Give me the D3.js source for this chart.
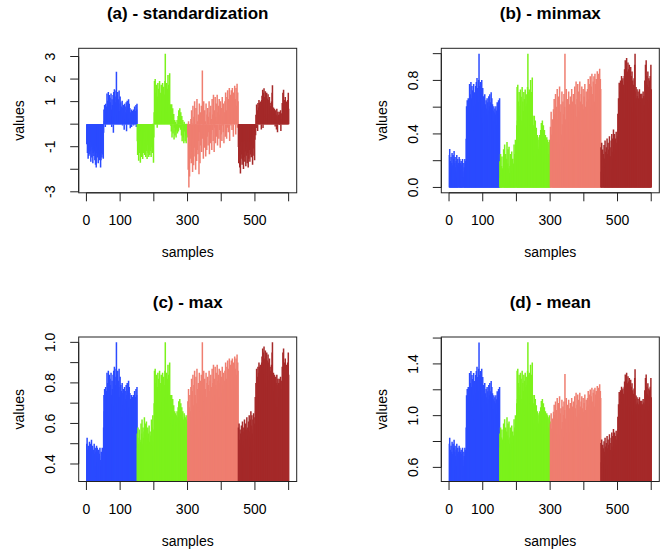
<!DOCTYPE html>
<html>
<head>
<meta charset="utf-8">
<script src="https://cdn.jsdelivr.net/npm/d3@7"></script>
<style>
  body { margin: 0; background: #fff; }
  text { font-family: "Liberation Sans", Arial, Helvetica, sans-serif; fill: #000; }
</style>
</head>
<body>
<div id="chart"></div>
<script>
// raw feature values, 150 samples per feature (already on a common scale)
const feature1 = [
  0.50,0.53,0.44,0.47,0.40,0.49,0.42,0.46,0.51,0.43,
  0.45,0.50,0.38,0.48,0.52,0.41,0.46,0.49,0.37,0.44,
  0.47,0.42,0.50,0.45,0.39,0.48,0.36,0.46,0.34,0.49,
  0.44,0.48,0.41,0.46,0.37,0.47,0.43,0.45,0.39,0.48,
  0.42,0.34,0.39,0.46,0.44,0.41,0.48,0.43,0.47,0.40,
  0.58,0.74,0.66,0.77,0.70,0.62,0.78,0.72,0.68,0.76,
  0.85,0.73,0.80,0.66,0.86,0.78,0.71,0.84,0.64,0.82,
  0.79,0.68,0.85,0.74,0.62,0.81,0.77,0.70,0.84,0.58,
  0.86,0.75,0.88,0.69,0.83,0.79,0.72,0.87,1.00,0.76,
  0.84,0.70,0.86,0.65,0.81,0.78,0.87,0.73,0.68,0.83,
  0.74,0.79,0.66,0.76,0.71,0.80,0.63,0.75,0.69,0.77,
  0.73,0.60,0.78,0.70,0.76,0.67,0.72,0.79,0.59,0.74,
  0.80,0.71,0.76,0.64,0.81,0.73,0.78,0.68,0.75,0.61,
  0.72,0.67,0.74,0.62,0.71,0.73,0.66,0.70,0.74,0.63,
  0.72,0.68,0.76,0.65,0.73,0.70,0.77,0.62,0.74,0.78
];
const feature2 = [
  0.55,0.48,0.58,0.50,0.45,0.53,0.57,0.49,0.52,0.44,
  0.51,0.60,0.47,0.55,0.62,0.50,0.46,0.58,0.53,0.49,
  0.56,0.63,0.48,0.54,0.60,0.47,0.52,0.61,0.50,0.46,
  0.53,0.58,0.49,0.55,0.47,0.59,0.51,0.48,0.56,0.50,
  0.54,0.47,0.62,0.52,0.58,0.49,0.64,0.51,0.44,0.57,
  0.70,0.86,0.72,0.87,0.66,0.80,0.64,0.84,0.74,0.62,
  0.78,0.85,0.67,0.82,0.72,0.65,0.86,0.70,0.80,0.68,
  0.76,0.84,0.66,0.81,0.71,0.85,0.64,0.78,0.83,0.69,
  0.79,0.68,0.86,1.00,0.73,0.84,0.66,0.85,0.75,0.82,
  0.70,0.89,0.65,0.84,0.76,0.69,0.90,0.64,0.74,0.63,
  0.70,0.60,0.74,0.57,0.66,0.72,0.59,0.64,0.69,0.56,
  0.62,0.66,0.58,0.65,0.60,0.57,0.64,0.61,0.66,0.59,
  0.63,0.68,0.60,0.71,0.65,0.62,0.72,0.67,0.61,0.70,
  0.64,0.58,0.68,0.55,0.63,0.66,0.57,0.62,0.54,0.65,
  0.60,0.64,0.55,0.63,0.58,0.54,0.62,0.64,0.57,0.61
];
const feature3 = [
  0.71,0.55,0.77,0.47,0.68,0.52,0.74,0.60,0.66,0.78,
  0.58,0.82,0.63,0.76,0.54,0.84,0.69,0.57,0.79,0.65,
  0.86,0.61,0.74,0.55,0.83,0.70,0.59,0.87,0.64,0.77,
  0.62,0.80,0.68,0.53,0.85,0.72,0.58,0.81,0.66,0.76,
  0.84,0.63,0.79,1.00,0.69,0.74,0.60,0.86,0.71,0.65,
  0.82,0.68,0.77,0.61,0.85,0.73,0.64,0.80,0.70,0.83,
  0.66,0.79,0.72,0.86,0.62,0.76,0.81,0.67,0.84,0.71,
  0.78,0.64,0.87,0.73,0.80,0.68,0.89,0.75,0.63,0.82,
  0.74,0.88,0.67,0.79,0.85,0.70,0.77,0.89,0.66,0.81,
  0.76,0.84,0.69,0.87,0.73,0.80,0.65,0.86,0.78,0.71,
  0.83,0.68,0.88,0.75,0.79,0.72,0.85,0.67,0.81,0.77,
  0.86,0.70,0.90,0.76,0.82,0.69,0.88,0.74,0.91,0.79,
  0.72,0.87,0.78,0.92,0.68,0.84,0.80,0.89,0.75,0.91,
  0.81,0.73,0.92,0.77,0.88,0.70,0.90,0.83,0.76,0.93,
  0.79,0.87,0.71,0.92,0.84,0.78,0.94,0.74,0.90,0.86
];
const feature4 = [
  0.58,0.47,0.60,0.52,0.44,0.57,0.40,0.55,0.50,0.59,
  0.53,0.46,0.61,0.49,0.56,0.43,0.58,0.51,0.62,0.48,
  0.55,0.60,0.45,0.57,0.52,0.63,0.47,0.58,0.54,0.44,
  0.61,0.50,0.64,0.56,0.48,0.62,0.53,0.66,0.51,0.59,
  0.64,0.55,0.46,0.62,0.57,0.65,0.52,0.60,0.49,0.63,
  0.73,0.66,0.80,0.71,0.87,0.76,0.83,0.69,0.88,0.78,
  0.85,0.90,0.74,0.88,0.81,0.89,0.77,0.86,0.70,0.90,
  0.93,0.82,0.97,0.71,0.95,0.88,0.98,0.84,0.92,0.79,
  0.96,0.87,0.93,0.80,0.95,0.85,0.91,0.78,0.94,0.83,
  0.90,0.81,0.92,0.76,0.88,0.84,0.86,0.74,0.89,0.82,
  0.95,1.00,0.83,0.78,0.85,0.80,0.76,0.84,0.81,0.72,
  0.83,0.77,0.80,0.70,0.84,0.79,0.68,0.82,0.75,0.80,
  0.78,0.82,0.73,0.80,0.76,0.83,0.69,0.81,0.77,0.74,
  0.88,0.80,0.95,0.84,0.97,0.78,0.90,0.86,0.82,0.92,
  0.85,0.79,0.89,0.76,0.88,0.82,0.90,0.80,0.95,0.84
];

const features = [feature1, feature2, feature3, feature4];
const featureColors = ["#2b4bff", "#7cf21c", "#ef7e70", "#a52a2a"];

const panelTitles = ["(a) - standardization", "(b) - minmax", "(c) - max", "(d) - mean"];
const methods = ["standardization", "minmax", "max", "mean"];
const xTicks = [0, 100, 200, 300, 400, 500, 600];
const yTicksA = [-3, -2, -1, 0, 1, 2, 3];
const yTicksB = [0, 0.2, 0.4, 0.6, 0.8, 1.0];
const yTicksC = [0.4, 0.5, 0.6, 0.7, 0.8, 0.9, 1.0];
const yTicksD = [0.6, 0.8, 1.0, 1.2, 1.4, 1.6];
const yTicks = [yTicksA, yTicksB, yTicksC, yTicksD];
const yDecimals = [0, 1, 1, 1];

// normalize each feature on its own
function normalize(vals, how) {
  const mean = d3.mean(vals), sd = d3.deviation(vals);
  const [mn, mx] = d3.extent(vals);
  return vals.map(v => {
    if (how === "standardization") return (v - mean) / sd;
    if (how === "minmax") return (v - mn) / (mx - mn);
    if (how === "max") return v / mx;
    return v / mean;
  });
}

const W = 672, H = 552;
const boxW = 218, boxH = 144.5;
const panelPos = [[78.7, 48.3], [441.3, 48.3], [78.7, 337], [441.3, 337]];
const tickLen = 8.5;
const labelGap = 12.5;

const svg = d3.select("#chart").append("svg")
  .attr("width", W)
  .attr("height", H);

methods.forEach((how, p) => {
  const [left, top] = panelPos[p];
  const right = left + boxW, bottom = top + boxH;

  // sample index 1..600 with colour per feature
  const pts = [];
  features.forEach((f, g) => {
    normalize(f, how).forEach((v, i) => {
      pts.push({ x: g * f.length + i + 1, y: v, c: featureColors[g] });
    });
  });

  const n = pts.length;
  const xPad = 0.04 * (n - 1);
  const x = d3.scaleLinear().domain([1 - xPad, n + xPad]).range([left, right]);
  const [ymin, ymax] = d3.extent(pts, d => d.y);
  const yPad = 0.04 * (ymax - ymin);
  const y = d3.scaleLinear().domain([ymin - yPad, ymax + yPad]).range([bottom, top]);

  const g = svg.append("g");

  g.append("clipPath").attr("id", "clip" + p)
    .append("rect")
    .attr("x", left).attr("y", top)
    .attr("width", boxW).attr("height", boxH);

  // type = "h" lines
  g.append("g")
    .attr("clip-path", "url(#clip" + p + ")")
    .selectAll("line")
    .data(pts)
    .enter()
    .append("line")
    .attr("x1", d => x(d.x))
    .attr("x2", d => x(d.x))
    .attr("y1", Math.min(y(0), bottom + 2))
    .attr("y2", d => y(d.y))
    .attr("stroke", d => d.c)
    .attr("stroke-width", 1.5);

  // box
  g.append("rect")
    .attr("x", left).attr("y", top)
    .attr("width", boxW).attr("height", boxH)
    .attr("fill", "none")
    .attr("stroke", "#222")
    .attr("stroke-width", 1);

  // x axis ticks + labels
  const xt = g.append("g");
  xt.append("line")
    .attr("x1", x(xTicks[0])).attr("x2", x(xTicks[xTicks.length - 1]))
    .attr("y1", bottom).attr("y2", bottom)
    .attr("stroke", "#222");
  let lastRight = -Infinity;
  xTicks.forEach(t => {
    xt.append("line")
      .attr("x1", x(t)).attr("x2", x(t))
      .attr("y1", bottom).attr("y2", bottom + tickLen)
      .attr("stroke", "#222");
    const lab = xt.append("text")
      .attr("x", x(t)).attr("y", bottom + 32)
      .attr("text-anchor", "middle")
      .style("font-size", "14px")
      .text(t);
    const w = lab.node().getComputedTextLength();
    if (x(t) - w / 2 < lastRight + labelGap) lab.remove();
    else lastRight = x(t) + w / 2;
  });

  // y axis ticks + labels (rotated, R style)
  const yt = g.append("g");
  const ticks = yTicks[p];
  yt.append("line")
    .attr("x1", left).attr("x2", left)
    .attr("y1", y(ticks[0])).attr("y2", y(ticks[ticks.length - 1]))
    .attr("stroke", "#222");
  let lastTop = Infinity;
  ticks.forEach(t => {
    yt.append("line")
      .attr("x1", left - tickLen).attr("x2", left)
      .attr("y1", y(t)).attr("y2", y(t))
      .attr("stroke", "#222");
    const lx = left - 23.5, ly = y(t);
    const lab = yt.append("text")
      .attr("transform", "translate(" + lx + "," + ly + ") rotate(-90)")
      .attr("text-anchor", "middle")
      .style("font-size", "14px")
      .text(t.toFixed(yDecimals[p]));
    const w = lab.node().getComputedTextLength();
    if (ly + w / 2 > lastTop - labelGap) lab.remove();
    else lastTop = ly - w / 2;
  });

  // titles
  g.append("text")
    .attr("x", (left + right) / 2).attr("y", top - 29.5)
    .attr("text-anchor", "middle")
    .style("font-size", "17px")
    .style("font-weight", "bold")
    .text(panelTitles[p]);

  g.append("text")
    .attr("x", (left + right) / 2).attr("y", bottom + 64.5)
    .attr("text-anchor", "middle")
    .style("font-size", "14px")
    .text("samples");

  g.append("text")
    .attr("transform", "translate(" + (left - 54.5) + "," + ((top + bottom) / 2) + ") rotate(-90)")
    .attr("text-anchor", "middle")
    .style("font-size", "14px")
    .text("values");
});
</script>
</body>
</html>
